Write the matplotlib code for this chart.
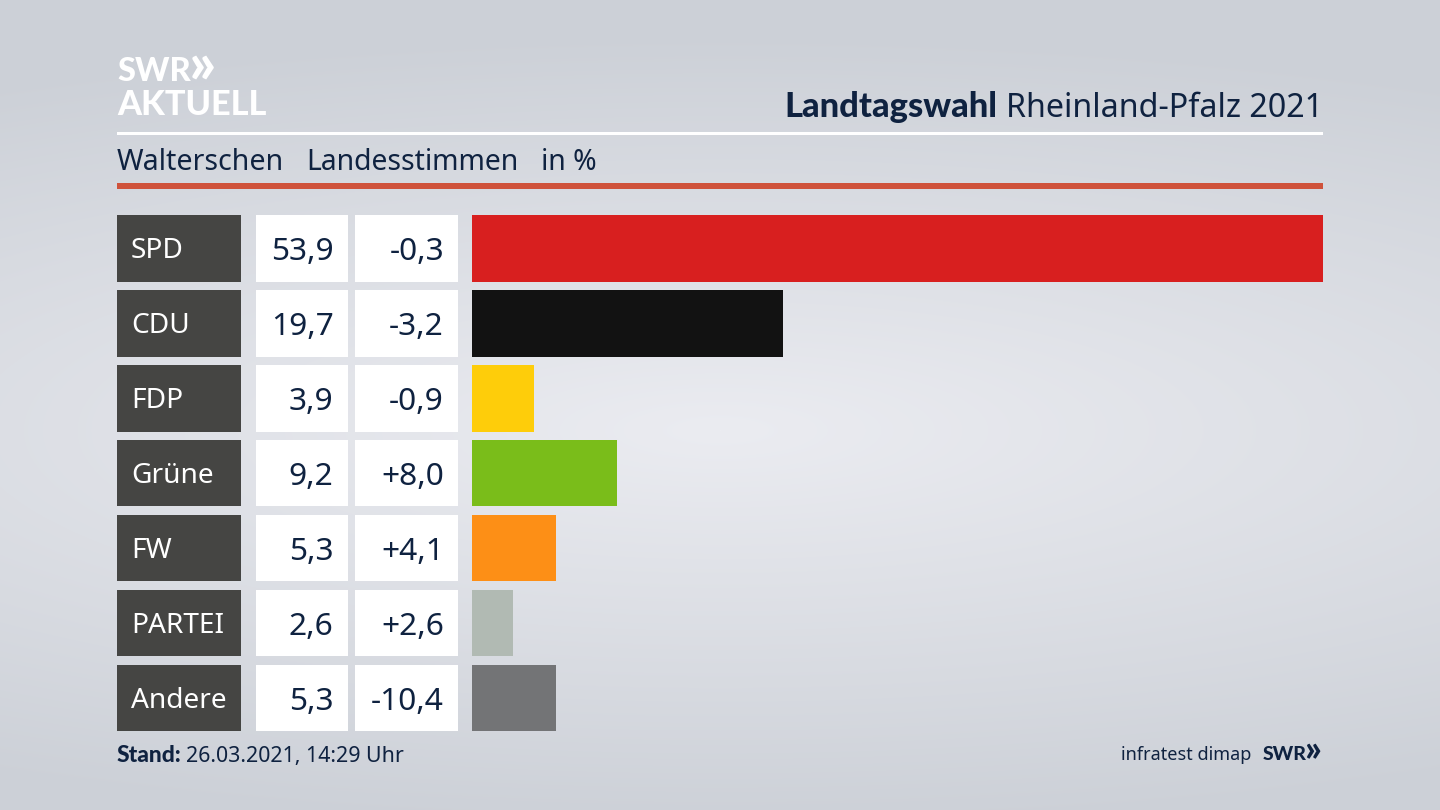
import numpy as np
import matplotlib
matplotlib.use('Agg')
import matplotlib.pyplot as plt
from matplotlib.patches import Rectangle

parties = ['SPD', 'CDU', 'FDP', 'Grüne', 'FW', 'PARTEI', 'Andere']
shares = [53.9, 19.7, 3.9, 9.2, 5.3, 2.6, 5.3]
share_labels = ['53,9', '19,7', '3,9', '9,2', '5,3', '2,6', '5,3']
change_labels = ['-0,3', '-3,2', '-0,9', '+8,0', '+4,1', '+2,6', '-10,4']
bar_colors = ['#d81f1f', '#121212', '#fecd0a', '#7abd1a', '#fd8f16', '#b1bab3', '#737476']

navy = '#0f2240'
plt.rcParams['font.family'] = ['Noto Sans', 'DejaVu Sans']
boldFont = {'family': ['Lato', 'DejaVu Sans'], 'fontweight': 'black'}

W, H = 1440, 810
fig = plt.figure(figsize=(14.4, 8.1), dpi=100)

# background + everything that is not a bar, in pixel coords
bg = fig.add_axes([0, 0, 1, 1])
bg.set_xlim(0, W)
bg.set_ylim(H, 0)
bg.axis('off')

yy, xx = np.mgrid[0:H, 0:W]
dist = np.sqrt(((xx - 720) / 1500.0) ** 2 + ((yy - 430) / 400.0) ** 2)
dist = np.clip(dist, 0, 1)[..., None]
inner = np.array([235, 236, 241]) / 255
outer = np.array([204, 208, 215]) / 255
bg.imshow(inner + (outer - inner) * dist, extent=(0, W, H, 0), aspect='auto', zorder=0)

# rules
bg.add_patch(Rectangle((117, 132), 1206, 3, color='white', lw=0, zorder=1))
bg.add_patch(Rectangle((117, 183), 1206, 6, color='#cf523b', lw=0, zorder=1))

# logo
bg.text(117, 81, 'SWR', color='white', fontsize=23.5, va='baseline', zorder=2, **boldFont)
bg.text(189, 83, '»', color='white', fontsize=42, va='baseline', zorder=2, **boldFont)
bg.text(117, 115, 'AKTUELL', color='white', fontsize=24.7, va='baseline', zorder=2, **boldFont)

# title
bg.text(1323, 117, 'Rheinland-Pfalz 2021', color=navy, fontsize=23.2, ha='right', va='baseline', zorder=2)
bg.text(997, 117, 'Landtagswahl', color=navy, fontsize=24.8, ha='right', va='baseline', zorder=2, **boldFont)

# subtitle
bg.text(117, 170, 'Walterschen', color=navy, fontsize=20.6, va='baseline', zorder=2)
bg.text(306, 170, 'Landesstimmen', color=navy, fontsize=20.4, va='baseline', zorder=2)
bg.text(541, 170, 'in %', color=navy, fontsize=20.4, va='baseline', zorder=2)

# table columns
row_start = 215.2
row_h = 66.5
row_pitch = 74.9
for i in range(len(parties)):
    top = row_start + i * row_pitch
    base = top + row_h / 2 + 12
    bg.add_patch(Rectangle((117, top), 124, row_h, color='#454543', lw=0, zorder=1))
    bg.add_patch(Rectangle((256, top), 92, row_h, color='white', lw=0, zorder=1))
    bg.add_patch(Rectangle((355, top), 103, row_h, color='white', lw=0, zorder=1))
    bg.text(131, base - 2, parties[i], color='white', fontsize=20.2, va='baseline', zorder=2)
    bg.text(333.5, base, share_labels[i], color=navy, fontsize=22.8, ha='right', va='baseline', zorder=2)
    bg.text(444, base, change_labels[i], color=navy, fontsize=22.8, ha='right', va='baseline', zorder=2)

# footer
bg.text(117, 762, 'Stand:', color=navy, fontsize=16.4, va='baseline', zorder=2, **boldFont)
bg.text(186, 762, '26.03.2021, 14:29 Uhr', color=navy, fontsize=15.4, va='baseline', zorder=2)
bg.text(1251, 760, 'infratest dimap', color=navy, fontsize=13, ha='right', va='baseline', zorder=2)
bg.text(1263, 760, 'SWR', color=navy, fontsize=14, va='baseline', zorder=2, **boldFont)
bg.text(1304, 761, '»', color=navy, fontsize=26, va='baseline', zorder=2, **boldFont)

# bars
ax = fig.add_axes([472 / W, 1 - (row_start + 6 * row_pitch + row_h) / H, 851 / W, (6 * row_pitch + row_h) / H])
ax.patch.set_alpha(0)
ax.barh(np.arange(len(parties)), shares, height=row_h / row_pitch, color=bar_colors)
ax.set_xlim(0, 53.9)
ax.set_ylim(6 + row_h / row_pitch / 2, -row_h / row_pitch / 2)
ax.axis('off')

plt.savefig('out.png', dpi=100)
